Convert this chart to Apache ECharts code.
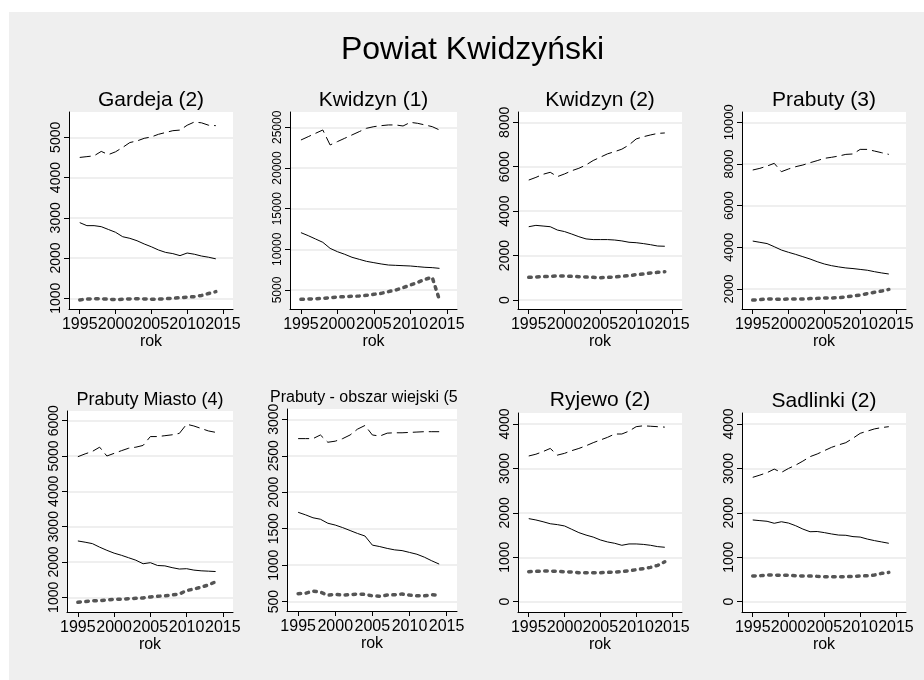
<!DOCTYPE html>
<html>
<head>
<meta charset="utf-8">
<script src="https://cdn.jsdelivr.net/npm/echarts@6/dist/echarts.min.js"></script>
<style>
html,body{margin:0;padding:0;background:#fff;}
#chart{width:924px;height:680px;}
</style>
</head>
<body>
<div id="chart"></div>
<script>
// ---- data ----
const years = [1995,1996,1997,1998,1999,2000,2001,2002,2003,2004,2005,2006,2007,2008,2009,2010,2011,2012,2013,2014];
const xTicks = [1995,2000,2005,2010,2015];
const mainTitle = 'Powiat Kwidzyński';
const xName = 'rok';
const panelTitles = ['Gardeja (2)','Kwidzyn (1)','Kwidzyn (2)','Prabuty (3)','Prabuty Miasto (4)','Prabuty - obszar wiejski (5)','Ryjewo (2)','Sadlinki (2)'];

const yTicksGardeja = [1000,2000,3000,4000,5000];
const yTicksKwidzyn1 = [5000,10000,15000,20000,25000];
const yTicksKwidzyn2 = [0,2000,4000,6000,8000];
const yTicksPrabuty3 = [2000,4000,6000,8000,10000];
const yTicksPrabutyMiasto = [1000,2000,3000,4000,5000,6000];
const yTicksPrabutyWies = [500,1000,1500,2000,2500,3000];
const yTicksRyjewo = [0,1000,2000,3000,4000];
const yTicksSadlinki = [0,1000,2000,3000,4000];

// dashed: wiek produkcyjny, solid: wiek przedprodukcyjny, dotted: wiek poprodukcyjny
const gardejaProd = [4500,4520,4540,4650,4570,4640,4750,4870,4910,4975,5010,5075,5120,5165,5180,5300,5380,5360,5300,5290];
const gardejaPrzed = [2880,2805,2805,2780,2710,2640,2530,2490,2430,2350,2280,2200,2140,2110,2060,2125,2095,2050,2020,1980];
const gardejaPo = [960,980,990,990,975,970,975,985,990,985,975,980,990,1000,1015,1030,1040,1070,1120,1165];

const kwidzyn1Prod = [23440,23850,24260,24670,22830,23240,23650,24060,24470,24880,25080,25200,25290,25290,25160,25610,25490,25290,25080,24670];
const kwidzyn1Przed = [12050,11680,11270,10860,10120,9710,9390,9020,8770,8520,8360,8200,8070,8030,7990,7950,7870,7790,7750,7660];
const kwidzyn1Po = [3850,3890,3930,3970,4060,4140,4180,4220,4260,4340,4470,4590,4800,5000,5290,5610,5940,6310,6560,3770];

const kwidzyn2Prod = [5400,5520,5660,5750,5555,5675,5820,5930,6080,6280,6430,6580,6680,6790,6980,7250,7350,7430,7500,7520];
const kwidzyn2Przed = [3300,3360,3330,3300,3150,3080,2970,2850,2750,2720,2720,2720,2700,2660,2600,2580,2540,2490,2430,2420];
const kwidzyn2Po = [1020,1035,1050,1065,1080,1080,1065,1050,1035,1020,1005,1020,1035,1065,1095,1140,1170,1215,1245,1275];

const prabuty3Prod = [7710,7790,7900,8030,7630,7760,7870,7950,8060,8160,8270,8320,8380,8460,8480,8700,8700,8620,8540,8460];
const prabuty3Przed = [4300,4240,4180,4030,3870,3760,3660,3550,3440,3310,3200,3120,3060,3010,2980,2940,2900,2830,2770,2720];
const prabuty3Po = [1470,1490,1520,1520,1500,1520,1520,1520,1540,1550,1570,1570,1580,1620,1660,1710,1780,1840,1900,1980];

const prabutyMiastoProd = [4980,5060,5130,5250,5000,5075,5150,5220,5250,5300,5550,5550,5575,5600,5640,5900,5850,5780,5710,5670];
const prabutyMiastoPrzed = [2595,2560,2520,2420,2330,2250,2190,2120,2050,1950,1980,1900,1890,1840,1800,1810,1770,1750,1740,1730];
const prabutyMiastoPo = [860,880,900,905,925,945,945,960,970,980,1010,1030,1040,1065,1095,1190,1235,1285,1350,1440];

const prabutyWiesProd = [2735,2735,2735,2785,2685,2700,2735,2785,2865,2915,2785,2770,2810,2815,2815,2820,2825,2830,2830,2830];
const prabutyWiesPrzed = [1725,1690,1650,1630,1575,1550,1515,1475,1435,1400,1275,1255,1230,1210,1200,1175,1150,1110,1060,1015];
const prabutyWiesPo = [610,615,645,630,590,600,590,595,605,600,580,575,590,595,605,590,580,580,595,590];

const ryjewoProd = [3280,3320,3380,3450,3300,3340,3400,3450,3510,3580,3640,3700,3775,3775,3840,3940,3960,3950,3940,3930];
const ryjewoPrzed = [1870,1840,1800,1755,1735,1705,1630,1555,1500,1455,1390,1345,1315,1270,1300,1300,1290,1270,1240,1225];
const ryjewoPo = [675,683,690,690,683,675,668,653,653,653,653,660,668,675,698,720,743,773,818,900];

const sadlinkiProd = [2800,2850,2905,2985,2910,3000,3075,3165,3265,3325,3400,3475,3530,3580,3680,3790,3840,3890,3920,3940];
const sadlinkiPrzed = [1840,1825,1810,1765,1800,1770,1710,1635,1575,1580,1555,1525,1500,1495,1465,1455,1410,1375,1345,1315];
const sadlinkiPo = [578,585,600,600,593,593,585,578,578,570,563,563,563,563,570,578,585,600,638,660];

// ---- layout (positions/sizes kept separate from data) ----
const panels = [
  {prod:gardejaProd, przed:gardejaPrzed, po:gardejaPo, ticks:yTicksGardeja, l:69, r:233, t:112, b:309, ymin:734, ymax:5629, ts:21, ty:100.5, yf:14},
  {prod:kwidzyn1Prod, przed:kwidzyn1Przed, po:kwidzyn1Po, ticks:yTicksKwidzyn1, l:290, r:457, t:112, b:309, ymin:2664, ymax:26881, ts:21, ty:100.5, yf:12},
  {prod:kwidzyn2Prod, przed:kwidzyn2Przed, po:kwidzyn2Po, ticks:yTicksKwidzyn2, l:518, r:682, t:112, b:309, ymin:-405, ymax:8464, ts:21, ty:100.5, yf:14},
  {prod:prabuty3Prod, przed:prabuty3Przed, po:prabuty3Po, ticks:yTicksPrabuty3, l:742, r:906, t:112, b:309, ymin:1040, ymax:10494, ts:21, ty:100.5, yf:13},
  {prod:prabutyMiastoProd, przed:prabutyMiastoPrzed, po:prabutyMiastoPo, ticks:yTicksPrabutyMiasto, l:67, r:233, t:411, b:612, ymin:584, ymax:6274, ts:18, ty:400, yf:14},
  {prod:prabutyWiesProd, przed:prabutyWiesPrzed, po:prabutyWiesPo, ticks:yTicksPrabutyWies, l:287, r:457, t:409, b:611, ymin:372, ymax:3141, ts:16, ty:398, yf:14, clip:true},
  {prod:ryjewoProd, przed:ryjewoPrzed, po:ryjewoPo, ticks:yTicksRyjewo, l:518, r:682, t:413, b:612, ymin:-232, ymax:4248, ts:21, ty:400.5, yf:14},
  {prod:sadlinkiProd, przed:sadlinkiPrzed, po:sadlinkiPo, ticks:yTicksSadlinki, l:742, r:906, t:413, b:612, ymin:-232, ymax:4248, ts:21, ty:401, yf:14}
];

const FONT = '"Liberation Sans", Arial, sans-serif';
const grids = [], xAxes = [], yAxes = [], series = [];
const graphics = [
  {type: 'rect', left: 9, top: 12, shape: {width: 915, height: 668}, style: {fill: '#EFEFEF'}, z: -10, silent: true},
  {type: 'text', x: 472.5, y: 50, z: 10, silent: true,
   style: {text: mainTitle, font: '32px ' + FONT, fill: '#000', textAlign: 'center', textVerticalAlign: 'middle', align: 'center', verticalAlign: 'middle'}}
];

panels.forEach((p, i) => {
  grids.push({left: p.l, top: p.t, width: p.r - p.l, height: p.b - p.t, show: true,
    backgroundColor: '#fff', borderWidth: 0, containLabel: false});
  xAxes.push({
    type: 'value', gridIndex: i, min: 1993.5, max: 2016.4,
    name: xName, nameLocation: 'middle', nameGap: 24,
    nameTextStyle: {fontFamily: FONT, fontSize: 16, color: '#000'},
    axisLine: {show: true, onZero: false, lineStyle: {color: '#000', width: 1}},
    axisTick: {show: true, length: 5, customValues: xTicks, lineStyle: {color: '#000'}},
    axisLabel: {customValues: xTicks, margin: 8, fontFamily: FONT, fontSize: 16, color: '#000',
      formatter: v => String(v), hideOverlap: false, showMinLabel: true, showMaxLabel: true},
    splitLine: {show: false}
  });
  yAxes.push({
    type: 'value', gridIndex: i, min: p.ymin, max: p.ymax,
    axisLine: {show: true, lineStyle: {color: '#000', width: 1}},
    axisTick: {show: true, length: 5, customValues: p.ticks, lineStyle: {color: '#000'}},
    axisLabel: {customValues: p.ticks, rotate: 90, margin: 6, fontFamily: FONT, fontSize: p.yf, color: '#000',
      formatter: v => String(v), hideOverlap: false, showMinLabel: true, showMaxLabel: true},
    splitLine: {show: true, lineStyle: {color: '#EAEAEA', width: 1.5}}
  });
  const toPts = arr => years.map((y, k) => [y, arr[k]]);
  series.push({type: 'line', xAxisIndex: i, yAxisIndex: i, data: toPts(p.prod), showSymbol: false, silent: true,
    lineStyle: {color: '#000', width: 1, type: [11, 5]}, z: 3, animation: false});
  series.push({type: 'line', xAxisIndex: i, yAxisIndex: i, data: toPts(p.przed), showSymbol: false, silent: true,
    lineStyle: {color: '#000', width: 1}, z: 3, animation: false});
  series.push({type: 'line', xAxisIndex: i, yAxisIndex: i, data: toPts(p.po), showSymbol: false, silent: true,
    lineStyle: {color: '#555', width: 3.5, type: [2.5, 5.5], cap: 'round'}, z: 3, animation: false});
  const cx = (p.l + p.r) / 2;
  if (p.clip) {
    graphics.push({type: 'text', x: 270, y: p.ty, z: 10, silent: true,
      style: {text: panelTitles[i], font: p.ts + 'px ' + FONT, fill: '#000', textAlign: 'left', align: 'left',
        textVerticalAlign: 'middle', verticalAlign: 'middle', width: 189, overflow: 'truncate', ellipsis: ''}});
  } else {
    graphics.push({type: 'text', x: cx, y: p.ty, z: 10, silent: true,
      style: {text: panelTitles[i], font: p.ts + 'px ' + FONT, fill: '#000', textAlign: 'center', align: 'center',
        textVerticalAlign: 'middle', verticalAlign: 'middle'}});
  }
});

const chart = echarts.init(document.getElementById('chart'), null, {renderer: 'canvas'});
chart.setOption({
  backgroundColor: '#fff',
  animation: false,
  graphic: graphics,
  grid: grids,
  xAxis: xAxes,
  yAxis: yAxes,
  series: series
});
</script>
</body>
</html>
